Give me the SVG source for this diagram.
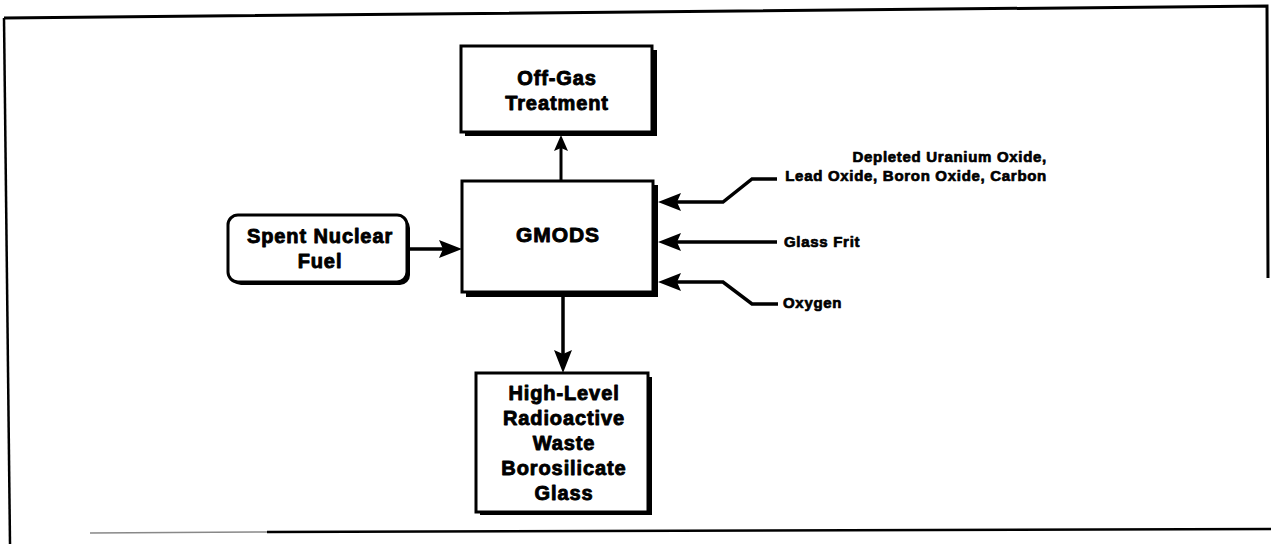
<svg xmlns="http://www.w3.org/2000/svg" width="1271" height="544" viewBox="0 0 1271 544">
  <style>
    .frame { fill: none; stroke: #000; stroke-width: 3; }
    .box { fill: #fff; stroke: #000; stroke-width: 3; }
    .shadow { fill: #000; }
    .main { font-family: "Liberation Sans", Arial, sans-serif; font-weight: bold; font-size: 20px; letter-spacing: 0.9px; text-anchor: middle; fill: #000; stroke: #000; stroke-width: 0.9; stroke-linejoin: round; }
    .label { font-family: "Liberation Sans", Arial, sans-serif; font-weight: bold; font-size: 15px; letter-spacing: 0.7px; fill: #000; stroke: #000; stroke-width: 0.7; stroke-linejoin: round; }
    .wire { fill: none; stroke: #000; stroke-width: 3.5; stroke-linejoin: miter; }
    .head { fill: #000; }
  </style>

  <defs>
    <!-- filled arrowhead pointing along +x, tip at origin -->
    <path id="ah" d="M0,0 L-23,-9 L-19,0 L-23,9 Z"/>
    <path id="ahs" d="M0,0 L-16,-7 L-13,0 L-16,7 Z"/>
  </defs>

  <rect width="1271" height="544" fill="#fff"/>

  <!-- outer frame -->
  <g id="frame">
    <path class="frame" d="M4,18 L1267,6 L1268,278"/>
    <path class="frame" style="stroke-width:2.5" d="M4,18 L10,544"/>
    <path class="frame" style="stroke-width:2.5" d="M267,532 L1271,529"/>
    <path fill="none" stroke="#888" stroke-width="1.5" d="M90,533 L267,532"/>
  </g>

  <!-- process nodes -->
  <g id="offgas">
    <rect class="shadow" x="465" y="50" width="192" height="86"/>
    <rect class="box" x="461" y="46" width="191" height="86"/>
    <text class="main" x="557" y="85">Off-Gas</text>
    <text class="main" x="557" y="110">Treatment</text>
  </g>

  <g id="gmods">
    <rect class="shadow" x="466" y="185" width="192" height="112"/>
    <rect class="box" x="462" y="181" width="191" height="111"/>
    <text class="main" x="558" y="242" style="font-size:21px">GMODS</text>
  </g>

  <g id="spent-fuel">
    <rect class="shadow" x="231" y="218" width="179" height="67" rx="10"/>
    <rect class="box" x="228" y="215" width="179" height="67" rx="10"/>
    <text class="main" x="320" y="243">Spent Nuclear</text>
    <text class="main" x="320" y="268">Fuel</text>
  </g>

  <g id="hlw-glass">
    <rect class="shadow" x="480" y="377" width="172" height="138"/>
    <rect class="box" x="476" y="373" width="172" height="139"/>
    <text class="main" x="564" y="400">High-Level</text>
    <text class="main" x="564" y="425">Radioactive</text>
    <text class="main" x="564" y="450">Waste</text>
    <text class="main" x="564" y="475">Borosilicate</text>
    <text class="main" x="564" y="500">Glass</text>
  </g>

  <!-- feed labels -->
  <g id="feed-oxides">
    <text class="label" x="1047" y="162" text-anchor="end">Depleted Uranium Oxide,</text>
    <text class="label" x="1047" y="181" text-anchor="end">Lead Oxide, Boron Oxide, Carbon</text>
  </g>
  <g id="feed-frit">
    <text class="label" x="784" y="247">Glass Frit</text>
  </g>
  <g id="feed-oxygen">
    <text class="label" x="783" y="308">Oxygen</text>
  </g>

  <!-- connectors -->
  <g id="connectors">
    <!-- GMODS to off-gas treatment -->
    <path class="wire" style="stroke-width:3" d="M561,181 L561,148"/>
    <use href="#ahs" class="head" transform="translate(561,135) rotate(-90)"/>

    <!-- spent fuel to GMODS -->
    <path class="wire" d="M407,249 L446,249"/>
    <use href="#ah" class="head" transform="translate(462,249)"/>

    <!-- GMODS to glass product -->
    <path class="wire" d="M563,297 L563,356"/>
    <use href="#ah" class="head" transform="translate(563,373) rotate(90)"/>

    <!-- oxide feed -->
    <path class="wire" d="M777,179 L752,179 L723,202 L676,202"/>
    <use href="#ah" class="head" transform="translate(658,202) rotate(180)"/>

    <!-- glass frit feed -->
    <path class="wire" d="M777,242 L676,242"/>
    <use href="#ah" class="head" transform="translate(658,242) rotate(180)"/>

    <!-- oxygen feed -->
    <path class="wire" d="M778,304 L752,304 L723,282 L676,282"/>
    <use href="#ah" class="head" transform="translate(658,282) rotate(180)"/>
  </g>
</svg>
